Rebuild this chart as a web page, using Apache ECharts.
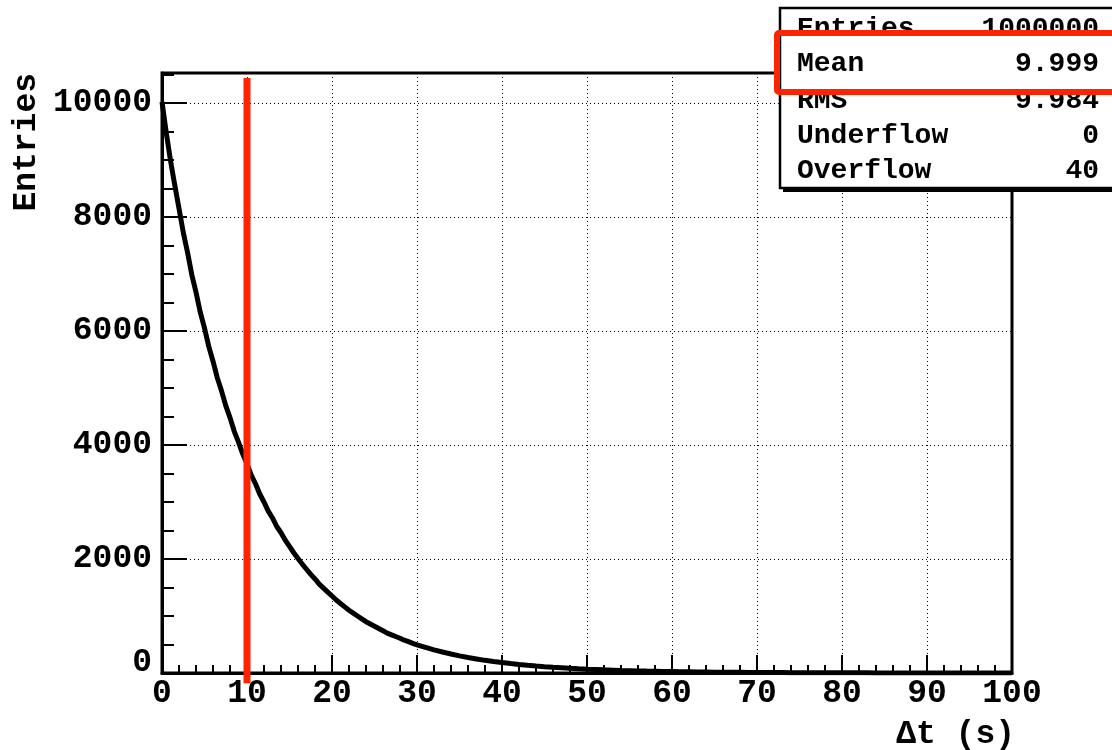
<!DOCTYPE html>
<html>
<head>
<meta charset="utf-8">
<script src="https://cdn.jsdelivr.net/npm/echarts@6/dist/echarts.min.js"></script>
<style>html,body{margin:0;padding:0;background:#fff;}#c{width:1112px;height:750px;}</style>
</head>
<body>
<div id="c"></div>
<script>
// Δt values (s) at which the histogram height was read
const times = [
  0,0.5,1,1.5,2,2.5,3,3.5,4,4.5,5,5.5,6,6.5,7,7.5,8,8.5,9,9.5,
  10,10.5,11,11.5,12,12.5,13,13.5,14,14.5,15,15.5,16,16.5,17,17.5,18,18.5,19,19.5,
  20,20.5,21,21.5,22,22.5,23,23.5,24,24.5,25,25.5,26,26.5,27,27.5,28,28.5,29,29.5,30,
  31,32,33,34,35,36,37,38,39,40,41,42,43,44,45,46,47,48,49,50,
  51,52,53,54,55,56,57,58,59,60,61,62,63,64,65,66,67,68,69,70,
  71,72,73,74,75,76,77,78,79,80,81,82,83,84,85,86,87,88,89,90,
  91,92,93,94,95,96,97,98,99,100
];
// entries per bin
const counts = [
  10020,9480,8990,8560,8150,7730,7380,6990,6680,6330,6050,5730,5470,5180,4950,4690,4480,4240,4050,3840,
  3670,3470,3320,3140,3000,2840,2720,2570,2460,2330,2220,2110,2010,1910,1820,1730,1650,1560,1490,1420,
  1350,1280,1220,1160,1100,1050,1000,950,900,860,820,780,740,700,670,640,610,575,550,520,495,
  450,405,368,333,300,272,247,222,202,183,165,149,135,122,110,100,91,82,74,67,
  61,55,50,45,41,37,33,30,27,25,22,20,18,17,15,14,12,11,10,9,
  8,7,7,6,6,5,5,4,4,3,3,3,3,2,2,2,2,2,1,1,
  1,1,1,1,1,1,1,0,0,0
];
// red marker line at the mean
const markerX = [10, 10];
const markerY = [-180, 10440];
// statistics box
const statNames = ['Entries', 'Mean', 'RMS', 'Underflow', 'Overflow'];
const statValues = ['1000000', '9.999', '9.984', '0', '40'];

const F = 'Liberation Mono, Courier New, monospace';
const histData = times.map((t, i) => [t, counts[i]]);
const markData = markerX.map((x, i) => [x, markerY[i]]);
const yMax = 10526;

const statRowsY = [29, 64, 101, 136, 171];
const graphics = [
  { type: 'rect', shape: { x: 783, y: 11, width: 340, height: 181 }, style: { fill: '#000' }, z: 100 },
  { type: 'rect', shape: { x: 780, y: 8, width: 340, height: 180 }, style: { fill: '#fff', stroke: '#000', lineWidth: 2.5 }, z: 101 }
];
statNames.forEach((n, i) => {
  graphics.push({ type: 'text', x: 797, y: statRowsY[i], z: 102,
    style: { text: n, font: 'bold 28px ' + F, fill: '#000', align: 'left', verticalAlign: 'middle' } });
  graphics.push({ type: 'text', x: 1099, y: statRowsY[i], z: 102,
    style: { text: statValues[i], font: 'bold 28px ' + F, fill: '#000', align: 'right', verticalAlign: 'middle' } });
});
graphics.push({ type: 'rect', shape: { x: 777, y: 33, width: 360, height: 59, r: 2 },
  style: { fill: 'none', stroke: '#ff2400', lineWidth: 6 }, z: 103 });
graphics.push({ type: 'text', x: 27, y: 73, rotation: Math.PI / 2, z: 50,
  style: { text: 'Entries', font: 'bold 33px ' + F, fill: '#000', align: 'right', verticalAlign: 'middle' } });
graphics.push({ type: 'text', x: 1015, y: 735, z: 50,
  style: { text: 'Δt (s)', font: 'bold 33px ' + F, fill: '#000', align: 'right', verticalAlign: 'middle' } });

const chart = echarts.init(document.getElementById('c'), null, { renderer: 'canvas' });
chart.setOption({
  animation: false,
  backgroundColor: '#fff',
  grid: { left: 162, right: 100, top: 73, bottom: 77, show: true, borderColor: '#000', borderWidth: 3, backgroundColor: 'transparent' },
  xAxis: {
    type: 'value', min: 0, max: 100, interval: 10,
    axisLine: { show: true, lineStyle: { color: '#000', width: 3 } },
    axisTick: { show: true, inside: true, length: 18, lineStyle: { color: '#000', width: 2 } },
    minorTick: { show: true, splitNumber: 5, length: 8, lineStyle: { color: '#000', width: 2 } },
    axisLabel: { show: true, margin: 4, color: '#000', fontFamily: F, fontWeight: 'bold', fontSize: 33 },
    splitLine: { show: true, lineStyle: { color: '#000', width: 1, type: [1, 3] } }
  },
  yAxis: [{
    type: 'value', min: 0, max: yMax, interval: 2000, position: 'left',
    axisLine: { show: true, lineStyle: { color: '#000', width: 3 } },
    axisTick: { show: true, inside: true, length: 25, lineStyle: { color: '#000', width: 2 } },
    axisLabel: {
      show: true, margin: 10, color: '#000', fontFamily: F, fontWeight: 'bold', fontSize: 33,
      showMaxLabel: false,
      formatter: v => (v % 2000 === 0 ? (v === 0 ? '{z|0}' : String(v)) : ''),
      rich: { z: { fontFamily: F, fontWeight: 'bold', fontSize: 33, color: '#000', padding: [0, 0, 20, 0] } }
    },
    splitLine: { show: true, lineStyle: { color: '#000', width: 1, type: [1, 3] } }
  }, {
    type: 'value', min: 0, max: yMax, interval: 500, position: 'left',
    axisLine: { show: false },
    axisTick: { show: true, inside: true, length: 12, lineStyle: { color: '#000', width: 2 } },
    axisLabel: { show: false },
    splitLine: { show: false }
  }],
  series: [{
    type: 'line', data: histData, xAxisIndex: 0, yAxisIndex: 0,
    showSymbol: false, symbol: 'none', z: 3,
    lineStyle: { color: '#000', width: 5 }
  }, {
    type: 'line', data: markData, xAxisIndex: 0, yAxisIndex: 0,
    showSymbol: false, symbol: 'none', clip: false, z: 5,
    lineStyle: { color: '#ff2400', width: 7, cap: 'butt' }
  }],
  graphic: graphics
});
</script>
</body>
</html>
